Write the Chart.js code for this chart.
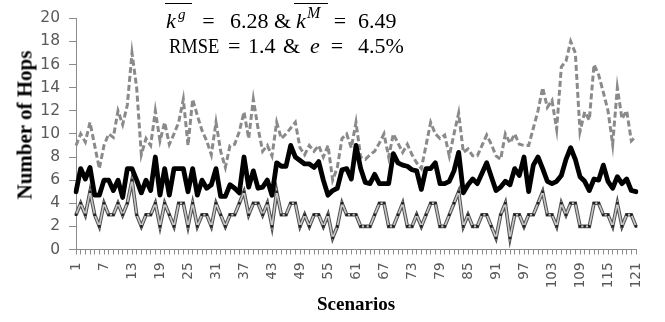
<!DOCTYPE html>
<html><head><meta charset="utf-8">
<script src="https://cdn.jsdelivr.net/npm/chart.js@4.4.0/dist/chart.umd.min.js"></script>
<style>
html,body{margin:0;padding:0;background:#fff;}
#wrap{position:relative;width:665px;height:322px;overflow:hidden;background:#fff;}
canvas{position:absolute;left:0;top:0;}
.t{position:absolute;white-space:nowrap;line-height:1;color:#000;font-family:"Liberation Serif","Times New Roman",serif;font-size:22px;}
.i{font-style:italic;}
.ov{position:absolute;height:1.3px;background:#000;}
</style></head><body>
<div id="wrap">
<canvas id="c" width="665" height="322"></canvas>
<!-- line 1 -->
<span class="t i" style="left:166px;top:9.6px;">k</span>
<span class="t i" style="left:178px;top:7.4px;font-size:15px;">g</span>
<div class="ov" style="left:165px;top:3px;width:27px;"></div>
<span class="t" style="left:202.3px;top:9.6px;">=</span>
<span class="t" style="left:230px;top:9.6px;">6.28</span>
<span class="t" style="left:274px;top:9.6px;">&amp;</span>
<span class="t i" style="left:296px;top:9.6px;">k</span>
<span class="t i" style="left:307px;top:5.4px;font-size:16px;">M</span>
<div class="ov" style="left:294px;top:3px;width:34px;"></div>
<span class="t" style="left:333.8px;top:9.6px;">=</span>
<span class="t" style="left:358px;top:9.6px;">6.49</span>
<!-- line 2 -->
<span class="t" style="left:169px;top:34.6px;transform:scaleX(0.84);transform-origin:0 0;">RMSE</span>
<span class="t" style="left:228px;top:34.6px;">=</span>
<span class="t" style="left:248px;top:34.6px;">1.4</span>
<span class="t" style="left:283px;top:34.6px;">&amp;</span>
<span class="t i" style="left:310px;top:34.6px;">e</span>
<span class="t" style="left:330.8px;top:34.6px;">=</span>
<span class="t" style="left:358px;top:34.6px;">4.5%</span>
<!-- axis titles -->
<span class="t" id="ytitle" style="left:24.9px;top:125px;font-size:21px;font-weight:bold;transform:translate(-50%,-50%) rotate(-90deg);">Number of Hops</span>
<span class="t" id="xtitle" style="left:356px;top:294.1px;font-size:19px;font-weight:bold;transform:translateX(-50%);">Scenarios</span>
</div>
<script>
const scenarios = ['1','2','3','4','5','6','7','8','9','10','11','12','13','14','15','16','17','18','19','20',
'21','22','23','24','25','26','27','28','29','30','31','32','33','34','35','36','37','38','39','40',
'41','42','43','44','45','46','47','48','49','50','51','52','53','54','55','56','57','58','59','60',
'61','62','63','64','65','66','67','68','69','70','71','72','73','74','75','76','77','78','79','80',
'81','82','83','84','85','86','87','88','89','90','91','92','93','94','95','96','97','98','99','100',
'101','102','103','104','105','106','107','108','109','110','111','112','113','114','115','116','117','118','119','120','121'];
const shownTicks = ['1','7','13','19','25','31','37','43','49','55','61','67','73','79','85','91','97','103','109','115','121'];

const maxHops = [9,10,9.3,11,9,7,9,10,9.7,12,
10.8,12.5,17,14,8.2,9.6,9,12,9.4,11,
9.1,10,11,13,9,13,11.6,10.3,9.4,8.2,
11,8.5,7.1,9,9.1,10.2,11.9,9.6,13,10.5,
8.5,9,8.1,11,9.6,10,10.5,11,8.8,8.2,
9,8.5,9,8,9,6,7.1,9.6,10,8.8,
11,8,7.8,8.2,8.5,9.2,10,8,10,9.2,
8.4,9.1,8.2,7.5,7,9,11,10,9.6,9.9,
8.1,10,11.8,8.4,8.7,8.1,8.1,9,9.9,9.1,
8.1,7.8,10,9.2,10,9.1,9,9,10.5,12,
14,12.3,12.9,10.4,15.8,16.3,18,17,10.2,11.9,
11.2,16,15.1,13.6,12,9.1,14,11.3,12,9.4,9.8];

const avgHops = [5.0,7.0,6.1,7.1,4.7,4.7,6.0,6.0,5.1,6.0,
4.5,7.0,7.0,6.0,4.9,6.0,5.1,8.0,4.7,7.0,
4.7,7.0,7.0,7.0,5.0,7.0,4.7,6.0,5.3,5.6,
7.0,4.6,4.6,5.6,5.3,4.9,8.0,5.4,6.8,5.3,
5.4,6.0,4.7,7.5,7.2,7.2,9.0,8.0,7.7,7.4,
7.4,7.1,7.6,6.0,4.7,5.1,5.3,6.9,7.0,6.1,
9.0,7.0,5.8,5.7,6.5,5.7,5.7,5.7,8.3,7.5,
7.3,7.2,6.9,6.8,5.2,7.0,7.0,7.5,5.7,5.7,
5.9,6.8,8.4,4.9,5.6,6.1,5.7,6.6,7.5,6.3,
5.1,5.4,5.9,5.6,7.0,6.4,8.0,5.0,7.3,8.0,
7.0,5.9,5.7,5.9,6.4,7.8,8.8,7.8,6.3,5.9,
5.1,6.1,6.0,7.3,5.9,5.3,6.3,5.7,6.1,5.1,5.0];

const minHops = [3,4,3,5,3,2,4,3,3,4,
3,4,6,3,2,3,3,4,2,4,
3,2,4,4,2,4,2,3,3,2,
4,3,2,3,3,4,5,3,4,4,
3,4,2,5,3,3,4,4,2,3,
2,3,3,2,3,1,2,4,3,3,
3,2,2,2,3,4,4,2,2,3,
4,2,2,3,2,3,4,4,2,2,
3,4,5,2,3,2,2,3,3,2,
1,3,4,1,3,3,2,3,3,4,
5,3,3,2,4,3,4,4,2,2,
2,4,4,3,3,2,4,2,3,3,2];

const axisGray = '#8c8c8c';
new Chart(document.getElementById('c'), {
  type: 'line',
  data: {
    labels: scenarios,
    datasets: [
      {label:'Average hops', data:avgHops, borderColor:'#000', borderWidth:4.8, pointRadius:0, borderJoinStyle:'round', borderCapStyle:'round', tension:0, order:1},
      {label:'Max hops', data:maxHops, borderColor:'#8a8a8a', borderWidth:3, borderDash:[6,3], pointRadius:0, tension:0, order:2},
      {label:'Min hops', data:minHops, borderColor:'#c8c8c8', borderWidth:1.6, pointRadius:1.8, pointStyle:'rect', pointBackgroundColor:'#222', pointBorderWidth:0, tension:0, order:3},
      {label:'Min hops outline', data:minHops, borderColor:'#505050', borderWidth:3.6, pointRadius:0, tension:0, order:4}
    ]
  },
  options: {
    responsive:false, animation:false, devicePixelRatio:1,
    layout:{padding:{left:0, right:29, top:12.5, bottom:0}},
    plugins:{legend:{display:false}, tooltip:{enabled:false}, title:{display:false}},
    scales:{
      x:{
        offset:false,
        grid:{display:true, drawOnChartArea:false, drawTicks:true, tickLength:5, color:axisGray, lineWidth:1},
        border:{display:true, color:axisGray, width:1},
        ticks:{autoSkip:false, maxRotation:90, minRotation:90, padding:8, color:'#595959',
          font:{family:'DejaVu Sans', size:13.5},
          callback:function(v){ const l = this.getLabelForValue(v); return shownTicks.includes(l) ? l : ''; }},
        afterFit:function(s){ s.height = 72.5; }
      },
      y:{
        min:0, max:20,
        grid:{display:true, drawOnChartArea:false, drawTicks:true, tickLength:7, color:axisGray, lineWidth:1},
        border:{display:true, color:axisGray, width:1},
        ticks:{stepSize:2, padding:9, color:'#595959', font:{family:'DejaVu Sans', size:15.5}},
        afterFit:function(s){ s.width = 76; }
      }
    }
  }
});
</script>
</body></html>
